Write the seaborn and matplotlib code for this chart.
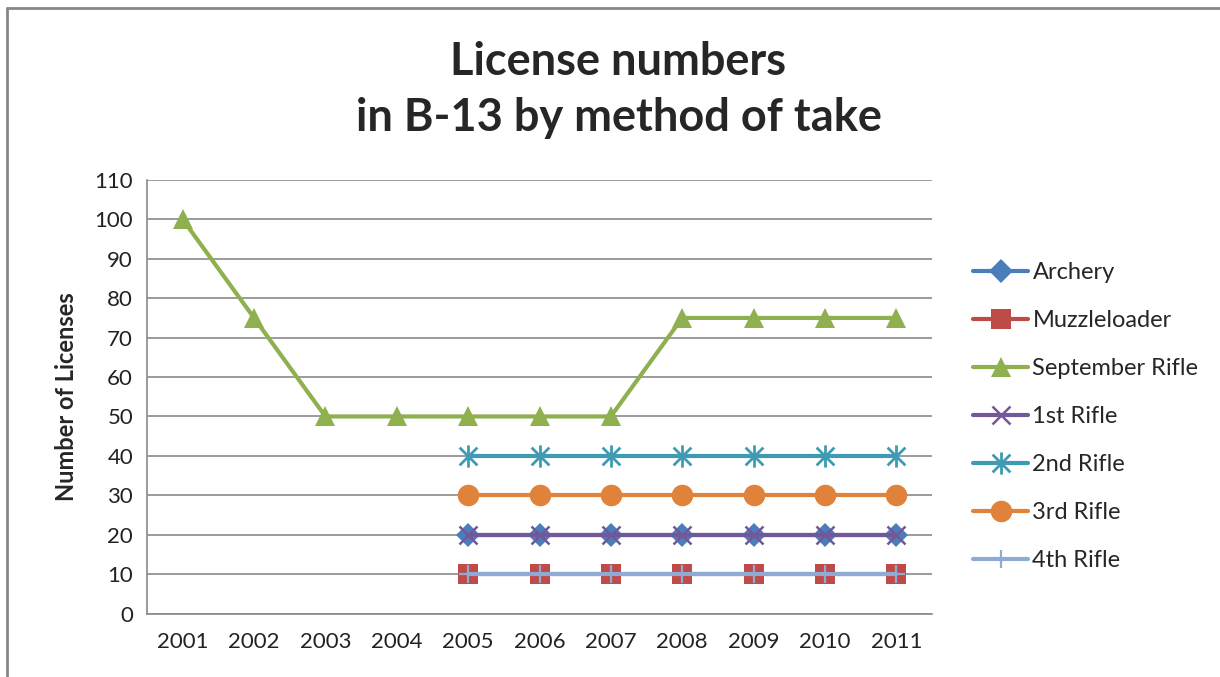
import matplotlib
matplotlib.use('Agg')
import matplotlib.pyplot as plt
from matplotlib.lines import Line2D
from matplotlib.path import Path
import numpy as np
import pandas as pd
import seaborn as sns

years = ['2001', '2002', '2003', '2004', '2005', '2006', '2007', '2008', '2009', '2010', '2011']
nan = np.nan

archery = [nan, nan, nan, nan, 20, 20, 20, 20, 20, 20, 20]
muzzleloader = [nan, nan, nan, nan, 10, 10, 10, 10, 10, 10, 10]
september_rifle = [100, 75, 50, 50, 50, 50, 50, 75, 75, 75, 75]
rifle_1st = [nan, nan, nan, nan, 20, 20, 20, 20, 20, 20, 20]
rifle_2nd = [nan, nan, nan, nan, 40, 40, 40, 40, 40, 40, 40]
rifle_3rd = [nan, nan, nan, nan, 30, 30, 30, 30, 30, 30, 30]
rifle_4th = [nan, nan, nan, nan, 10, 10, 10, 10, 10, 10, 10]

# Excel-style asterisk: an X with a vertical stroke through it
ASTERISK = Path(
    [(0, -1), (0, 1), (-0.8, -0.8), (0.8, 0.8), (-0.8, 0.8), (0.8, -0.8)],
    [Path.MOVETO, Path.LINETO, Path.MOVETO, Path.LINETO, Path.MOVETO, Path.LINETO],
)

# name, values, colour, marker, marker size, edge width (line-art markers only)
SERIES = [
    ('Archery', archery, '#4A7EBB', 'D', 12, 0),
    ('Muzzleloader', muzzleloader, '#BE4B48', 's', 15, 0),
    ('September Rifle', september_rifle, '#8FB04E', '^', 15, 0),
    ('1st Rifle', rifle_1st, '#72579A', 'x', 13, 1.8),
    ('2nd Rifle', rifle_2nd, '#3E9BB3', ASTERISK, 16, 2.0),
    ('3rd Rifle', rifle_3rd, '#E0823A', 'o', 15.5, 0),
    ('4th Rifle', rifle_4th, '#8FAAD3', '+', 13, 1.6),
]

sns.set_style('white')
plt.rcParams['font.family'] = ['Lato', 'DejaVu Sans']

fig = plt.figure(figsize=(12.2, 6.77), dpi=100)
ax = fig.add_axes([147 / 1220, 1 - 613.5 / 677, (932 - 147) / 1220, (613.5 - 180) / 677])

x = np.arange(len(years))
for i, (name, values, color, marker, msize, mew) in enumerate(SERIES):
    df = pd.DataFrame({'x': x, 'y': values}).dropna()
    sns.lineplot(data=df, x='x', y='y', ax=ax, color=color, marker=marker,
                 markersize=msize, markeredgewidth=mew, markeredgecolor=color,
                 linewidth=3, label=name, zorder=3 + i)

ax.set_xlim(-0.5, len(years) - 0.5)
ax.set_ylim(0, 110)
ax.set_yticks(np.arange(0, 111, 10))
ax.set_xticks(x)
ax.set_xticklabels(years)
ax.tick_params(axis='both', labelsize=16, length=0, colors='#222222')
ax.tick_params(axis='x', pad=13)
ax.tick_params(axis='y', pad=10)
ax.yaxis.grid(True, color='#8A8A8A', linewidth=1.2)
ax.xaxis.grid(False)
for side in ('top', 'right'):
    ax.spines[side].set_visible(False)
for side in ('left', 'bottom'):
    ax.spines[side].set_color('#8A8A8A')
    ax.spines[side].set_linewidth(1.2)

ax.set_xlabel('')
ax.set_ylabel('Number of Licenses', fontsize=17, fontweight='bold', labelpad=12)

fig.text(0.507, 1 - 90 / 677, 'License numbers\nin B-13 by method of take',
         ha='center', va='center', fontsize=32.5, fontweight='bold', linespacing=1.42)

handles, labels = ax.get_legend_handles_labels()
ax.legend(handles, labels, loc='upper left', bbox_to_anchor=(964 / 1220, 1 - 253 / 677),
          bbox_transform=fig.transFigure, frameon=False, fontsize=17,
          labelspacing=1.14, handlelength=2.3, handletextpad=0.2, borderaxespad=0)

# chart-area border (top and left edges visible in the crop)
fig.add_artist(Line2D([7 / 1220, 1], [1 - 8 / 677, 1 - 8 / 677], transform=fig.transFigure,
                      color='#878787', linewidth=2))
fig.add_artist(Line2D([7 / 1220, 7 / 1220], [0, 1 - 8 / 677], transform=fig.transFigure,
                      color='#878787', linewidth=2))

fig.savefig('out.png', dpi=100)
